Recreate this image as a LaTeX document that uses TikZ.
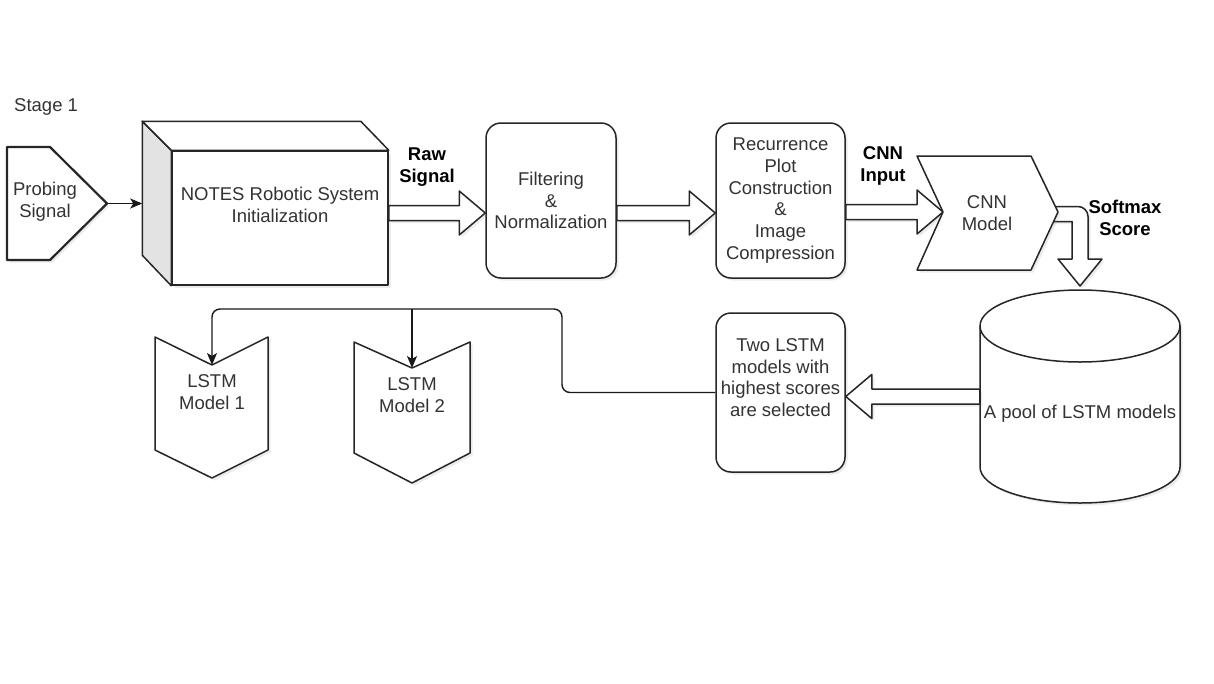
\documentclass[tikz,border=0pt]{standalone}
\usepackage{fontspec}
\setmainfont{Liberation Sans}
\usetikzlibrary{arrows.meta,calc,shadows}

% hollow block arrow, horizontal, from #1 to #2
\newcommand{\fatarrow}[2]{%
  \draw[blk] let \p1=(#1), \p2=(#2), \p3=($(#2)!26pt!(#1)$) in
    (\x1,\y1+7.5pt) -- (\x3,\y1+7.5pt) -- (\x3,\y1+22pt)
    -- (\x2,\y1) -- (\x3,\y1-22pt) -- (\x3,\y1-7.5pt)
    -- (\x1,\y1-7.5pt) -- cycle;}

\begin{document}
\begin{tikzpicture}[x=1pt,y=-1pt,
  font=\fontsize{18.5}{21.7}\selectfont,
  blk/.style={draw=black!85, line width=1.5pt, fill=white, line join=round,
    drop shadow={shadow xshift=2.5pt, shadow yshift=-2.5pt, opacity=0.15}},
  face/.style={draw=black!85, line width=1.5pt, line join=round},
  txt/.style={text=black!80, align=center, inner sep=0pt},
  box/.style={blk, txt, rounded corners=15pt, minimum width=129pt, minimum height=155pt},
  lbl/.style={font=\fontsize{18.5}{21.7}\selectfont\bfseries, text=black, align=center},
  link/.style={draw=black!90, line width=1.4pt, -{Stealth[length=12pt,width=10pt,inset=3pt]}},
]
\fill[white] (0,0) rectangle (1214,683);
\useasboundingbox (0,0) rectangle (1214,683);

\node[txt, anchor=west] (stage) at (14,107) {Stage 1};

% first row
\draw[blk, line width=2.2pt] (7,147) -- (50,147) -- (107,203.5) -- (50,260) -- (7,260) -- cycle;
\node[txt] (probe) at (45,202) {Probing\\Signal};
\coordinate (probetip) at (107,203.5);

\node[blk, txt, minimum width=216pt, minimum height=134pt, text depth=26pt] (notes) at (280,218) {NOTES Robotic System\\Initialization};
\draw[face, fill=black!11] (notes.north west) -- ++(-29,-29) -- ++(0,134) -- (notes.south west) -- cycle;
\draw[face, fill=white] (notes.north west) -- ++(-29,-29) -- ($(notes.north east)+(-28,-29)$) -- (notes.north east) -- cycle;
\draw[link] (probetip) -- ($(notes.west |- probetip)+(-29,0)$);

\node[box, minimum width=130pt] (filt) at (551,200.5) {Filtering\\\&\\Normalization};
\node[box] (rec) at (780.5,200.5) {Recurrence\\Plot\\Construction\\\&\\Image\\Compression};

\coordinate (row) at (0,213);
\coordinate (cnnin) at (943,212);
\coordinate (cnnout) at (1058,212);
\coordinate (pooltop) at (1080,286);

\fatarrow{notes.east |- row}{filt.west |- row}
\fatarrow{filt.east |- row}{rec.west |- row}
\fatarrow{rec.east |- cnnin}{cnnin}

\draw[blk] let \p1=(cnnout), \p2=(pooltop) in
  (\x1-8pt,\y1+5.5pt) -- (\x2-2pt,\y1+5.5pt) arc[start angle=90, end angle=0, radius=10pt]
  -- (\x2+8pt,\y2+27pt) -- (\x2+22pt,\y2+27pt) -- (\x2,\y2) -- (\x2-22pt,\y2+27pt)
  -- (\x2-8pt,\y2+27pt) -- (\x2-8pt,\y1-9.5pt) -- (\x1-8pt,\y1-9.5pt) -- cycle;

\draw[blk] (917,156) -- (1031,156) -- (1058,212) -- (1031,270) -- (917,270) -- (943,212) -- cycle;
\node[txt] (cnn) at (987,213) {CNN\\Model};

\node[lbl] (rawlbl) at (427,167) {Raw\\Signal};
\node[lbl] (cnnlbl) at (883,166) {CNN\\Input};
\node[lbl] (smlbl) at (1125,218) {Softmax\\Score};

% second row
\draw[blk] (980,326) -- (980,467) arc[start angle=180, end angle=0, x radius=100, y radius=36]
  -- (1180,326) arc[start angle=0, end angle=-180, x radius=100, y radius=36] -- cycle;
\draw[face] (980,326) arc[start angle=180, end angle=0, x radius=100, y radius=36];
\node[txt, minimum width=200pt, minimum height=141pt, text height=47pt] (pool) at (1080,396.5) {A pool of LSTM models};

\node[box, minimum height=159pt, text depth=30pt] (tlstm) at (780.5,392.5) {Two LSTM\\models with\\highest scores\\are selected};
\fatarrow{pool.west}{tlstm.east |- pool.west}

\draw[blk] (155,337) -- (212,365) -- (268,337) -- (268,450) -- (212,478) -- (155,450) -- cycle;
\node[txt] (lstmA) at (212,392) {LSTM\\Model 1};
\coordinate (lstmAin) at (212,365);
\draw[blk] (354,342) -- (412,368) -- (470,342) -- (470,453) -- (412,483) -- (354,453) -- cycle;
\node[txt] (lstmB) at (412,395) {LSTM\\Model 2};
\coordinate (lstmBin) at (412,368);

\coordinate (bus) at (562,309);
\draw[link, rounded corners=8pt] (tlstm.west) -| (bus) -| (lstmAin);
\draw[link] (lstmBin |- bus) -- (lstmBin);
\end{tikzpicture}
\end{document}
